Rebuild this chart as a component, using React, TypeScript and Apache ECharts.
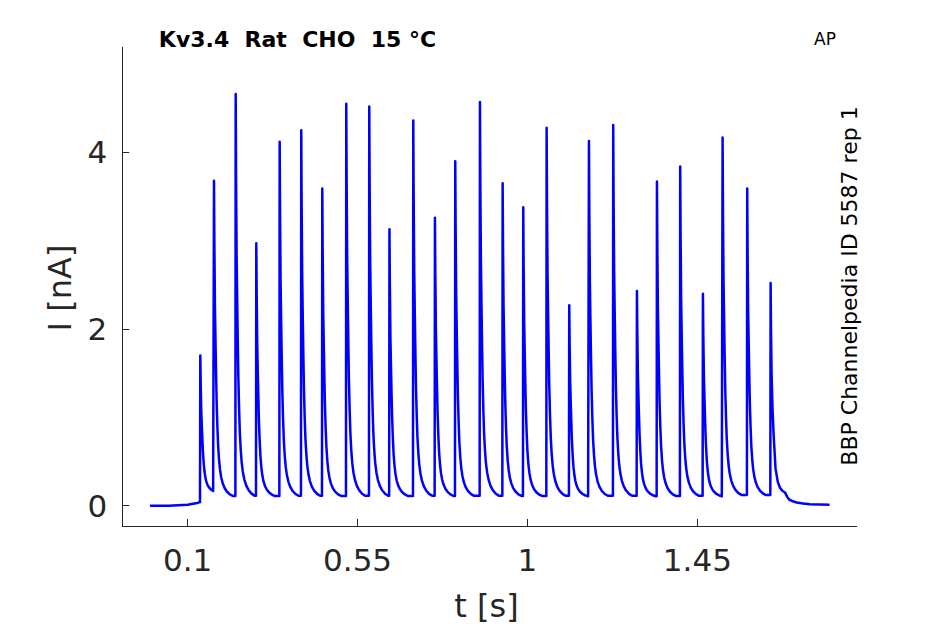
import React, { useEffect, useRef } from "react";
import * as echarts from "echarts";

// Spike (peak) times in seconds and peak currents in nA
const spikeTimes = [
  0.1334, 0.1697, 0.2271, 0.2817, 0.3436, 0.4008, 0.4565, 0.52, 0.5809,
  0.6344, 0.6975, 0.7549, 0.8087, 0.8741, 0.9342, 0.9888, 1.0507, 1.1106,
  1.1628, 1.2271, 1.2899, 1.3429, 1.4045, 1.4647, 1.5168, 1.582, 1.644,
];
const spikePeaks = [
  1.7, 3.68, 4.66, 2.97, 4.12, 4.25, 3.59, 4.55, 4.52, 3.13, 4.36, 3.26, 3.9,
  4.57, 3.65, 3.38, 4.28, 2.27, 4.13, 4.31, 2.43, 3.67, 3.84, 2.4, 4.17, 3.59,
  2.52,
];
// Trough level reached after each spike (before the next one), nA
const troughValues = [
  0.14, 0.1, 0.1, 0.1, 0.1, 0.1, 0.1, 0.1, 0.1, 0.1, 0.1, 0.1, 0.1, 0.1,
  0.1, 0.1, 0.1, 0.1, 0.1, 0.1, 0.1, 0.1, 0.1, 0.1, 0.11, 0.11,
];
// Shape of the decay after a peak (time after peak, fraction of peak above trough)
const decayOffsets = [
  0.001, 0.0025, 0.004, 0.0055, 0.007, 0.009, 0.011, 0.0135, 0.016, 0.019,
  0.023, 0.028, 0.034, 0.042, 0.05,
];
const decayFractions = [
  0.8, 0.6, 0.49, 0.39, 0.3, 0.22, 0.16, 0.115, 0.085, 0.062, 0.043, 0.028,
  0.017, 0.008, 0.003,
];
// Holding level before the stimulus train
const baselineTimes = [0.0, 0.05, 0.1, 0.125, 0.1326];
const baselineValues = [0.0, 0.0, 0.01, 0.03, 0.04];
// Tail after the last spike
const tailTimes = [1.645, 1.6465, 1.649, 1.652, 1.657, 1.663, 1.669, 1.675, 1.682, 1.688, 1.693, 1.703, 1.713, 1.73, 1.748, 1.8];
const tailValues = [2.0, 1.5, 1.1, 0.8, 0.42, 0.27, 0.2, 0.17, 0.15, 0.1, 0.07, 0.05, 0.036, 0.024, 0.016, 0.01];

// Axis ticks
const xTickValues = [0.1, 0.55, 1, 1.45];
const yTickValues = [0, 2, 4];

function buildTrace(): number[][] {
  const pts: number[][] = [];
  for (let i = 0; i < baselineTimes.length; i++) pts.push([baselineTimes[i], baselineValues[i]]);
  let level = baselineValues[baselineValues.length - 1];
  for (let i = 0; i < spikeTimes.length; i++) {
    const t = spikeTimes[i];
    const p = spikePeaks[i];
    if (i > 0) pts.push([t - 0.0008, level]);
    pts.push([t, p]);
    if (i === spikeTimes.length - 1) {
      for (let k = 0; k < tailTimes.length; k++) pts.push([tailTimes[k], tailValues[k]]);
    } else {
      const tr = troughValues[i];
      const next = spikeTimes[i + 1] - 0.0008;
      let last = tr;
      for (let k = 0; k < decayOffsets.length; k++) {
        const tt = t + decayOffsets[k];
        if (tt >= next) break;
        last = tr + (p - tr) * decayFractions[k];
        pts.push([tt, last]);
      }
      level = last;
    }
  }
  return pts;
}

export default function App() {
  const ref = useRef<HTMLDivElement>(null);
  useEffect(() => {
    document.body.style.margin = "0";
    const chart = echarts.init(ref.current!, null, { renderer: "svg" });
    const axisColor = "#262626";
    const font = "DejaVu Sans";
    chart.setOption({
      animation: false,
      backgroundColor: "#ffffff",
      grid: { left: 122.3, top: 47.3, right: 88.3, bottom: 98, outerBoundsMode: "none" },
      xAxis: {
        type: "value",
        min: -0.0732,
        max: 1.872,
        axisLine: { show: true, onZero: false, lineStyle: { color: axisColor, width: 1 } },
        axisTick: { show: true, inside: true, length: 7, customValues: xTickValues, lineStyle: { color: axisColor } },
        axisLabel: { show: true, customValues: xTickValues, color: axisColor, fontSize: 31, fontFamily: font, margin: 18 },
        splitLine: { show: false },
      },
      yAxis: {
        type: "value",
        min: -0.23,
        max: 5.19,
        axisLine: { show: true, onZero: false, lineStyle: { color: axisColor, width: 1 } },
        axisTick: { show: true, inside: true, length: 7, customValues: yTickValues, lineStyle: { color: axisColor } },
        axisLabel: { show: true, customValues: yTickValues, color: axisColor, fontSize: 31, fontFamily: font, margin: 15 },
        splitLine: { show: false },
      },
      series: [
        {
          type: "line",
          data: buildTrace(),
          showSymbol: false,
          symbol: "none",
          lineStyle: { color: "#0000ff", width: 2.5, join: "round" },
        },
      ],
      graphic: [
        {
          type: "text",
          x: 297.5,
          y: 39.5,
          style: { text: "Kv3.4  Rat  CHO  15 °C", fontSize: 22, fontWeight: "bold", fontFamily: font, fill: "#000", align: "center", verticalAlign: "middle" },
        },
        {
          type: "text",
          x: 825,
          y: 39,
          style: { text: "AP", fontSize: 17, fontFamily: font, fill: "#000", align: "center", verticalAlign: "middle" },
        },
        {
          type: "text",
          x: 849,
          y: 286,
          rotation: Math.PI / 2,
          style: { text: "BBP Channelpedia ID 5587 rep 1", fontSize: 22, fontFamily: font, fill: "#000", align: "center", verticalAlign: "middle" },
        },
        {
          type: "text",
          x: 486.5,
          y: 606,
          style: { text: "t [s]", fontSize: 32, fontFamily: font, fill: axisColor, align: "center", verticalAlign: "middle" },
        },
        {
          type: "text",
          x: 59.5,
          y: 288,
          rotation: Math.PI / 2,
          style: { text: "I [nA]", fontSize: 32, fontFamily: font, fill: axisColor, align: "center", verticalAlign: "middle" },
        },
      ],
    });
    return () => chart.dispose();
  }, []);
  return <div ref={ref} style={{ width: 945, height: 624 }} />;
}
